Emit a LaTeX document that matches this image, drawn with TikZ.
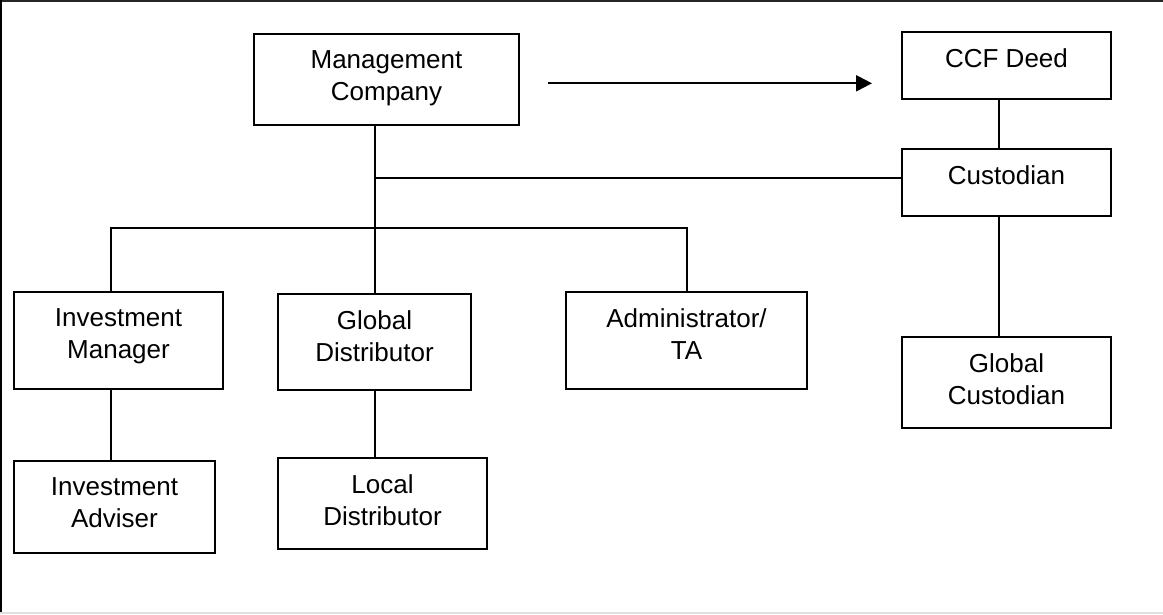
\documentclass[tikz,border=0pt]{standalone}
\usepackage{fontspec}
\setmainfont{Liberation Sans}
\usetikzlibrary{arrows.meta}
\begin{document}
\begin{tikzpicture}[x=1pt,y=-1pt,
  box/.style={draw, line width=2.2pt, inner sep=0pt, minimum width=#1},
  lbl/.style={anchor=north, yshift=-17.5pt, inner sep=0pt, align=center,
              font=\fontsize{26}{32}\selectfont},
  conn/.style={line width=2pt},
  arr/.style={line width=2.2pt, -{Triangle[length=16pt,width=16pt]}}
]
\useasboundingbox (0,0) rectangle (1163,614);
% frame
\draw[line width=2pt, black!85] (0,1) -- (1163,1);
\draw[line width=2pt, black] (1,0) -- (1,614);
\draw[line width=1.2pt, black!12] (0,613) -- (1163,613);

% boxes
\node[box=265pt, minimum height=91pt, label={[lbl]north:Management\\Company}] (mc) at (386.5,79.5) {};
\node[box=209pt, minimum height=67pt, label={[lbl]north:CCF Deed}] (ccf) at (1006.5,65.5) {};
\node[box=209pt, minimum height=67pt, label={[lbl]north:Custodian}] (cust) at (1006.5,182.5) {};
\node[box=209pt, minimum height=91pt, label={[lbl]north:Global\\Custodian}] (gc) at (1006.5,382.5) {};
\node[box=209pt, minimum height=97pt, label={[lbl]north:Investment\\Manager}] (im) at (118.5,340.5) {};
\node[box=201pt, minimum height=92pt, label={[lbl]north:Investment\\Adviser}] (ia) at (114.5,507) {};
\node[box=193pt, minimum height=96pt, label={[lbl]north:Global\\Distributor}] (gd) at (374.5,342) {};
\node[box=209pt, minimum height=91pt, label={[lbl]north:Local\\Distributor}] (ld) at (382.5,503.5) {};
\node[box=241pt, minimum height=97pt, label={[lbl]north:Administrator/\\TA}] (adm) at (686.5,340.5) {};

% junction coordinates
\coordinate (j1) at (374.5,178);
\coordinate (bl) at (110.7,228.3);
\coordinate (br) at (686.5,228.3);
\coordinate (cx) at (999,0);
\coordinate (a1) at (548,83.3);
\coordinate (a2) at (872,83.3);

% connectors
\draw[conn] (mc.south -| gd.north) -- (gd.north);
\draw[conn] (j1) -- (j1 -| cust.west);
\draw[conn] (im.north -| bl) -- (bl) -- (br) -- (adm.north);
\draw[conn] (ccf.south -| cx) -- (cust.north -| cx);
\draw[conn] (cust.south -| cx) -- (gc.north -| cx);
\draw[conn] (im.south -| bl) -- (ia.north -| bl);
\draw[conn] (gd.south) -- (ld.north -| gd.south);
\draw[arr] (a1) -- (a2);
\end{tikzpicture}
\end{document}
